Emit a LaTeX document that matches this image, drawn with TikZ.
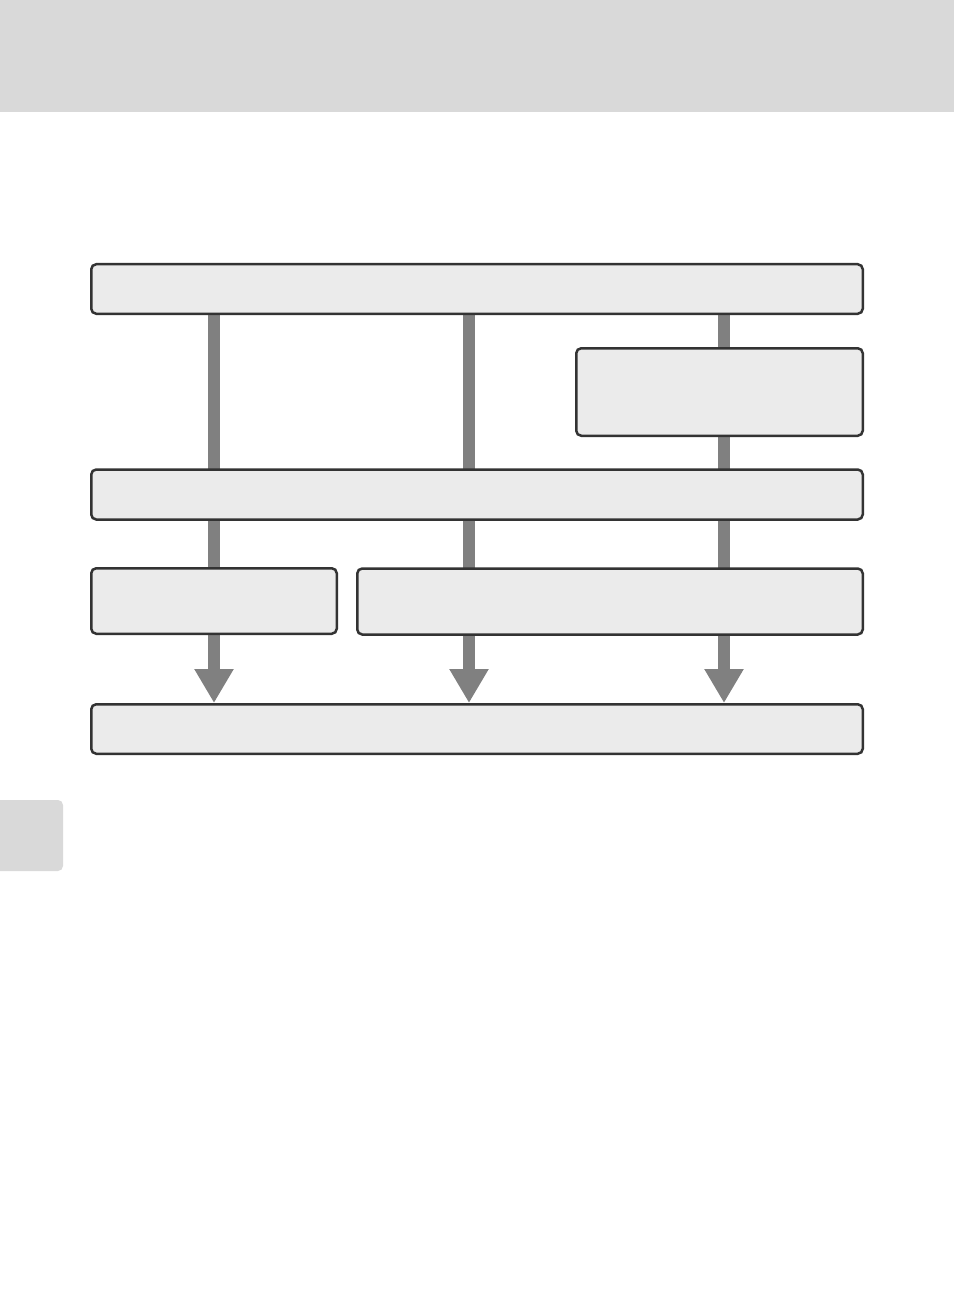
\documentclass[tikz,border=0pt]{standalone}
\usetikzlibrary{arrows.meta,backgrounds}
\definecolor{bandgray}{HTML}{D9D9D9}
\definecolor{boxfill}{HTML}{EBEBEB}
\definecolor{boxline}{HTML}{333333}
\definecolor{shaftgray}{HTML}{808080}
\tikzset{
    flowbox/.style={draw=boxline, fill=boxfill, line width=2.5pt, rounded corners=5pt,
        rectangle, inner sep=0pt},
    shaft/.style={draw=shaftgray, line width=12pt,
        -{Triangle[length=34pt, width=37pt]}}
}
\begin{document}
\begin{tikzpicture}[x=1pt, y=-1pt]
    \useasboundingbox (0, 0) rectangle (954, 1313);
    % 页眉和侧标签
    \fill[bandgray] (0, 0) rectangle (954, 112);
    \fill[bandgray, rounded corners=5pt] (-10, 800) rectangle (63, 871);

    % 方框
    \node[flowbox, minimum width=771.5pt, minimum height=49.5pt] (start) at (477, 289) {};
    \node[flowbox, minimum width=286.5pt, minimum height=87.5pt] (side) at (719.5, 392) {};
    \node[flowbox, minimum width=771.5pt, minimum height=50pt] (mid) at (477, 494.5) {};
    \node[flowbox, minimum width=245.5pt, minimum height=65.5pt] (lowleft) at (214, 601) {};
    \node[flowbox, minimum width=505.5pt, minimum height=66pt] (lowright) at (610, 601.5) {};
    \node[flowbox, minimum width=771.5pt, minimum height=49.5pt] (finish) at (477, 729) {};

    % 箭头
    \begin{scope}[on background layer]
        \foreach \x [count=\k] in {214, 469, 724} {
            \coordinate (col\k) at (\x, 0);
            \draw[shaft] (start.south -| col\k) -- (finish.north -| col\k);
        }
    \end{scope}
\end{tikzpicture}
\end{document}
